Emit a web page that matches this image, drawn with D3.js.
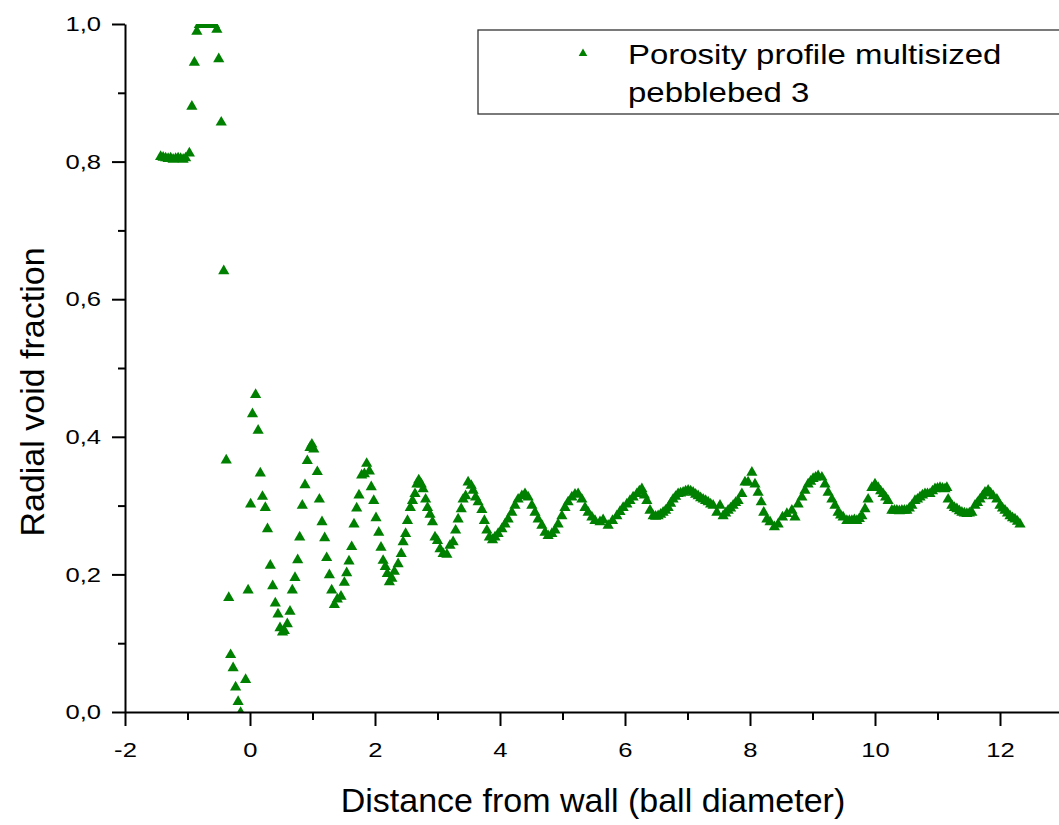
<!DOCTYPE html>
<html>
<head>
<meta charset="utf-8">
<script src="https://cdn.jsdelivr.net/npm/d3@7"></script>
<style>
  body { margin: 0; background: #fff; }
  text { font-family: Arial, "Liberation Sans", sans-serif; fill: #000; }
</style>
</head>
<body>
<div id="chart"></div>
<script>
// values
var distance = [
  -1.43,-1.39,-1.35,-1.31,-1.27,-1.23,-1.19,-1.15,-1.11,-1.07,-1.03,-0.97,
  -0.93,-0.89,-0.85,-0.81,-0.77,-0.73,-0.69,-0.65,-0.61,-0.57,-0.53,-0.50,-0.46,-0.42,-0.38,-0.34,-0.31,-0.27,-0.23,-0.19,-0.15,
  -0.07,-0.03,0.01,0.04,0.09,0.13,0.165,0.20,0.245,0.28,0.325,0.363,0.405,0.448,0.48,0.52,0.55,0.597,0.64,0.677,0.72,0.763,0.795,0.837,0.88,0.917,0.96,0.99,1.02,
  1.077,1.11,1.152,1.195,1.227,1.27,1.307,1.35,1.397,1.456,1.51,1.547,1.584,1.627,1.664,1.707,1.744,1.787,1.83,1.867,1.91,1.94,1.98,
  2.016,2.06,2.096,2.13,2.165,2.197,2.23,2.27,2.31,2.37,2.42,2.45,2.49,2.52,2.565,2.60,2.64,2.67,2.70,2.74,2.77,2.81,2.84,2.88,2.92,2.96,
  3.00,3.04,3.09,3.15,3.20,3.25,3.29,3.33,3.38,3.41,3.45,3.49,3.54,3.57,3.61,3.65,3.71,3.75,3.79,3.83,3.88,3.92,3.97,
  4.03,4.08,4.13,4.19,4.24,4.29,4.35,4.40,4.45,4.51,4.56,4.61,4.67,4.72,4.77,4.83,4.88,4.93,4.99,
  5.04,5.09,5.15,5.20,5.25,5.31,5.36,5.41,5.47,5.52,5.60,5.65,5.73,5.80,5.87,5.92,5.97,
  6.03,6.08,6.13,6.19,6.23,6.27,6.31,6.35,6.40,6.45,6.49,6.53,6.57,6.61,6.65,6.69,6.73,6.77,6.81,6.85,6.89,6.93,6.97,
  7.01,7.05,7.09,7.13,7.17,7.21,7.25,7.29,7.33,7.37,7.41,7.47,7.52,7.57,7.61,7.65,7.69,7.73,7.77,7.81,7.87,7.92,7.97,
  8.03,8.08,8.13,8.18,8.22,8.27,8.32,8.39,8.45,8.52,8.59,8.67,8.72,8.77,8.83,8.88,8.93,8.97,
  9.01,9.05,9.09,9.15,9.20,9.25,9.31,9.36,9.41,9.45,9.49,9.55,9.59,9.63,9.67,9.71,9.75,9.79,9.84,9.89,9.95,
  10.00,10.05,10.09,10.13,10.17,10.21,10.27,10.31,10.35,10.39,10.43,10.47,10.51,10.55,10.59,10.64,10.68,10.72,10.76,10.80,10.84,10.88,10.92,10.96,
  11.00,11.04,11.08,11.12,11.15,11.17,11.23,11.27,11.31,11.35,11.39,11.43,11.47,11.51,11.55,11.60,11.64,11.68,11.72,11.76,11.81,11.85,11.89,11.95,
  12.00,12.04,12.08,12.12,12.16,12.20,12.24,12.28,12.32
];
var voidFraction = [
  0.808,0.807,0.806,0.805,0.806,0.804,0.805,0.806,0.805,0.804,0.806,0.813,
  0.881,0.945,0.990,1.000,1.000,1.000,1.000,1.000,1.000,1.000,0.993,0.950,0.858,0.642,0.367,0.167,0.084,0.065,0.037,0.016,0.000,
  0.048,0.178,0.303,0.434,0.462,0.410,0.348,0.314,0.298,0.267,0.214,0.184,0.159,0.143,0.123,0.117,0.119,0.129,0.147,0.178,0.196,0.222,0.255,0.301,0.331,0.366,0.385,0.390,0.383,
  0.350,0.310,0.277,0.254,0.225,0.200,0.178,0.157,0.165,0.169,0.189,0.203,0.220,0.241,0.274,0.297,0.316,0.345,0.347,0.362,0.351,0.328,0.308,
  0.283,0.262,0.240,0.221,0.212,0.202,0.190,0.195,0.205,0.216,0.231,0.248,0.260,0.279,0.298,0.308,0.318,0.332,0.338,0.332,0.325,0.310,0.298,0.288,0.277,0.255,
  0.250,0.238,0.231,0.230,0.243,0.248,0.265,0.281,0.296,0.310,0.315,0.335,0.330,0.323,0.313,0.306,0.295,0.279,0.265,0.255,0.251,0.255,0.260,
  0.267,0.274,0.281,0.291,0.301,0.310,0.315,0.318,0.313,0.301,0.291,0.281,0.272,0.262,0.257,0.260,0.265,0.274,0.286,
  0.298,0.306,0.313,0.317,0.318,0.310,0.298,0.291,0.284,0.279,0.277,0.280,0.272,0.279,0.286,0.292,0.298,
  0.303,0.308,0.313,0.318,0.322,0.325,0.316,0.308,0.294,0.286,0.285,0.286,0.288,0.291,0.294,0.298,0.304,0.310,0.314,0.318,0.319,0.320,0.322,
  0.323,0.322,0.320,0.317,0.315,0.312,0.310,0.308,0.306,0.303,0.301,0.291,0.301,0.286,0.290,0.294,0.297,0.301,0.305,0.308,0.318,0.335,0.335,
  0.349,0.332,0.320,0.306,0.291,0.281,0.277,0.270,0.274,0.284,0.289,0.294,0.284,0.303,0.313,0.323,0.332,0.336,
  0.340,0.342,0.344,0.342,0.332,0.320,0.310,0.301,0.291,0.287,0.284,0.279,0.279,0.279,0.280,0.279,0.282,0.286,0.296,0.310,0.327,
  0.332,0.327,0.322,0.318,0.313,0.308,0.294,0.294,0.294,0.293,0.294,0.294,0.294,0.297,0.301,0.308,0.310,0.313,0.316,0.318,0.318,0.318,0.322,0.325,
  0.326,0.327,0.326,0.325,0.327,0.310,0.301,0.298,0.296,0.293,0.291,0.290,0.289,0.290,0.291,0.301,0.305,0.310,0.315,0.320,0.323,0.319,0.315,0.310,
  0.301,0.297,0.294,0.290,0.286,0.283,0.281,0.278,0.274
];
var xTickValues = [-2, 0, 2, 4, 6, 8, 10, 12];
var xMinorTicks = [-1, 1, 3, 5, 7, 9, 11];
var yTickValues = [0, 0.2, 0.4, 0.6, 0.8, 1.0];
var yMinorTicks = [0.1, 0.3, 0.5, 0.7, 0.9];
var seriesName = ["Porosity profile multisized", "pebblebed 3"];

var points = distance.map(function(d, i) { return { x: d, y: voidFraction[i] }; });

var widthChart = 1059, heightChart = 825;
var plotLeft = 125, plotTop = 24, plotBottom = 712;
var green = "#008000";
var stretch = 1.22; // tick and legend labels are drawn wider than plain Arial

var svg = d3.select("#chart").append("svg")
  .attr("width", widthChart)
  .attr("height", heightChart);

var x = d3.scaleLinear().domain([-2, 13]).range([plotLeft, plotLeft + 15 * 62.5]);
var y = d3.scaleLinear().domain([0, 1]).range([plotBottom, plotTop]);

var commaFormat = function(d) { return d3.format(".1f")(d).replace(".", ","); };

// clip for markers
svg.append("clipPath").attr("id", "plot-clip")
  .append("rect")
  .attr("x", plotLeft).attr("y", plotTop)
  .attr("width", widthChart - plotLeft).attr("height", plotBottom - plotTop);

var triangle = "M0,-5.8L5.6,3.9L-5.6,3.9Z";

svg.append("g")
  .attr("clip-path", "url(#plot-clip)")
  .selectAll("path")
  .data(points)
  .enter()
  .append("path")
  .attr("d", triangle)
  .attr("transform", function(d) { return "translate(" + x(d.x) + "," + y(d.y) + ")"; })
  .attr("fill", green);

// x axis
var xMinor = svg.append("g")
  .attr("transform", "translate(0," + plotBottom + ")")
  .call(d3.axisBottom(x).tickValues(xMinorTicks).tickSize(8).tickSizeOuter(0).tickFormat(""));
xMinor.select(".domain").remove();

var xAxis = svg.append("g")
  .attr("transform", "translate(0," + plotBottom + ")")
  .call(d3.axisBottom(x).tickValues(xTickValues).tickSize(14).tickSizeOuter(0).tickPadding(16)
    .tickFormat(function(d) { return d; }));
xAxis.selectAll("text")
  .style("font-size", "21px")
  .attr("transform", "scale(" + stretch + ",1)")
  .attr("x", 0);

// y axis
var yMinor = svg.append("g")
  .attr("transform", "translate(" + plotLeft + ",0)")
  .call(d3.axisLeft(y).tickValues(yMinorTicks).tickSize(7).tickSizeOuter(0).tickFormat(""));
yMinor.select(".domain").remove();

var yAxis = svg.append("g")
  .attr("transform", "translate(" + plotLeft + ",0)")
  .call(d3.axisLeft(y).tickValues(yTickValues).tickSize(13).tickSizeOuter(0).tickPadding(11)
    .tickFormat(commaFormat));
yAxis.selectAll("text")
  .style("font-size", "21px")
  .attr("x", -24 / stretch)
  .attr("transform", "scale(" + stretch + ",1)");

svg.selectAll(".domain, .tick line")
  .attr("stroke", "#000")
  .attr("stroke-width", 2);
svg.selectAll(".tick text").attr("fill", "#000").attr("font-family", "Arial, 'Liberation Sans', sans-serif");

// axis titles
svg.append("text")
  .attr("x", 593)
  .attr("y", 812)
  .attr("text-anchor", "middle")
  .style("font-size", "34px")
  .text("Distance from wall (ball diameter)");

svg.append("text")
  .attr("transform", "translate(44,392)rotate(-90)")
  .attr("text-anchor", "middle")
  .style("font-size", "34px")
  .text("Radial void fraction");

// legend
var legend = svg.append("g");
legend.append("rect")
  .attr("x", 478).attr("y", 30)
  .attr("width", 600).attr("height", 84)
  .attr("fill", "#fff")
  .attr("stroke", "#333")
  .attr("stroke-width", 1.3);
legend.append("path")
  .attr("d", "M0,-4.5L4.3,3L-4.3,3Z")
  .attr("transform", "translate(583,53)")
  .attr("fill", green);
legend.selectAll("text.legend-line")
  .data(seriesName)
  .enter()
  .append("text")
  .attr("class", "legend-line")
  .attr("x", 628 / stretch)
  .attr("y", function(d, i) { return 64 + i * 38; })
  .attr("transform", "scale(" + stretch + ",1)")
  .style("font-size", "27px")
  .text(function(d) { return d; });
</script>
</body>
</html>
